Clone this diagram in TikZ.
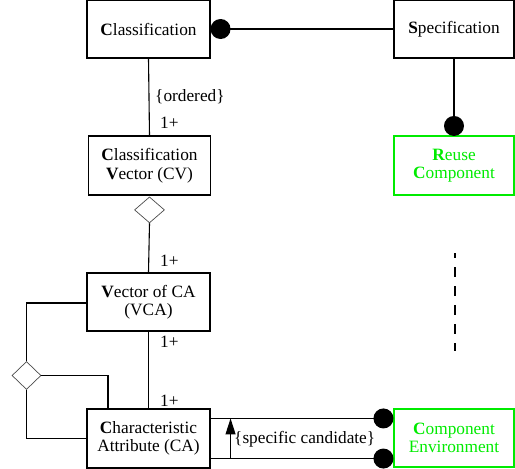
\documentclass[tikz,border=0pt]{standalone}
\usepackage{fontspec}
\setmainfont{Liberation Serif}
\usetikzlibrary{shapes.geometric,arrows.meta,calc}
\definecolor{cgreen}{RGB}{0,235,0}
\begin{document}
\begin{tikzpicture}[x=1pt,y=-1pt,
  box/.style={draw,line width=1.1pt,inner sep=0pt,align=center,
    font=\fontsize{17.3}{18.5}\selectfont},
  gbox/.style={box,draw=cgreen,text=cgreen},
  conn/.style={line width=1.1pt},
  dia/.style={draw=black!70,line width=0.7pt,shape=diamond,inner sep=0pt,fill=white},
  lbl/.style={inner sep=0pt,font=\fontsize{17.3}{18.5}\selectfont},
  ball/.style={fill=black}]
\useasboundingbox (0,0) rectangle (515,469);
\node[box,minimum width=123pt,minimum height=58pt] (cls) at (148.5,29) {\textbf{C}lassification};
\node[box,minimum width=120pt,minimum height=58pt] (spec) at (454,29) {\textbf{S}pecification};
\node[box,minimum width=122pt,minimum height=59pt] (cv) at (149.5,165.5) {\textbf{C}lassification\\\textbf{V}ector (CV)};
\node[gbox,minimum width=120pt,minimum height=59pt] (reuse) at (454,165.5) {\textbf{R}euse\\\textbf{C}omponent};
\node[box,minimum width=123pt,minimum height=58pt] (vca) at (148.5,302) {\textbf{V}ector of CA\\(VCA)};
\node[box,minimum width=123pt,minimum height=59pt] (ca) at (148.5,438.5) {\textbf{C}haracteristic\\Attribute (CA)};
\node[gbox,minimum width=120pt,minimum height=58pt] (ce) at (454,438) {\textbf{C}omponent\\Environment};
% diamonds
\node[dia,minimum width=30pt,minimum height=26pt,anchor=north] (d1) at ($(cv.south)+(0,1)$) {};
\node[dia,minimum width=29pt,minimum height=28pt] (d2) at (26.5,375.5) {};
% connectors
\draw[conn] (cls.east) -- (spec.west);
\fill[ball] ($(cls.east)+(10,0)$) circle (10);
\draw[conn] (cls.south) -- (cv.north);
\draw[conn] (spec.south) -- (reuse.north);
\fill[ball] ($(reuse.north)+(0,-9.5)$) circle (10);
\draw[conn] (d1.south) -- (vca.north);
\draw[conn] (vca.south) -- (ca.north);
\coordinate (vl) at ($(vca.west)+(0,1)$);
\coordinate (ct) at (108,409);
\coordinate (cb) at (108,375.5);
\draw[conn] (vl) -| (d2.north);
\draw[conn] (d2.east) -- (cb) -- (ct);
\draw[conn] (d2.south) |- (ca.west);
% CA - CE
\coordinate (a1) at ($(ca.north east)+(0,10)$);
\coordinate (a2) at ($(ca.south east)+(0,-10)$);
\coordinate (b1) at ($(ce.north west)+(0,10)$);
\coordinate (b2) at ($(ce.south west)+(0,-9)$);
\draw[conn] (a1) -- (b1);
\draw[conn] (a2) -- (b2);
\fill[ball] ($(b1)+(-10,0)$) circle (10);
\fill[ball] ($(b2)+(-10,0)$) circle (10);
\coordinate (ar1) at ($(a2)+(20,0)$);
\coordinate (ar2) at ($(a1)+(20,0)$);
\draw[conn,-{Triangle[width=10pt,length=16pt]}] (ar1) -- (ar2);
\node[lbl,anchor=west] (sc) at (234,439) {\{specific candidate\}};
% dashed
\coordinate (ds1) at (455,253);
\coordinate (ds2) at (455,351);
\draw[line width=1.1pt,dash pattern=on 10pt off 9pt,dash phase=5pt] (ds1) -- (ds2);
% labels
\node[lbl,anchor=west] (ord) at (155,97) {\{ordered\}};
\node[lbl,anchor=west] (m1) at (160,123) {1+};
\node[lbl,anchor=west] (m2) at (160,261) {1+};
\node[lbl,anchor=west] (m3) at (160,342) {1+};
\node[lbl,anchor=west] (m4) at (160,401) {1+};
\end{tikzpicture}
\end{document}
